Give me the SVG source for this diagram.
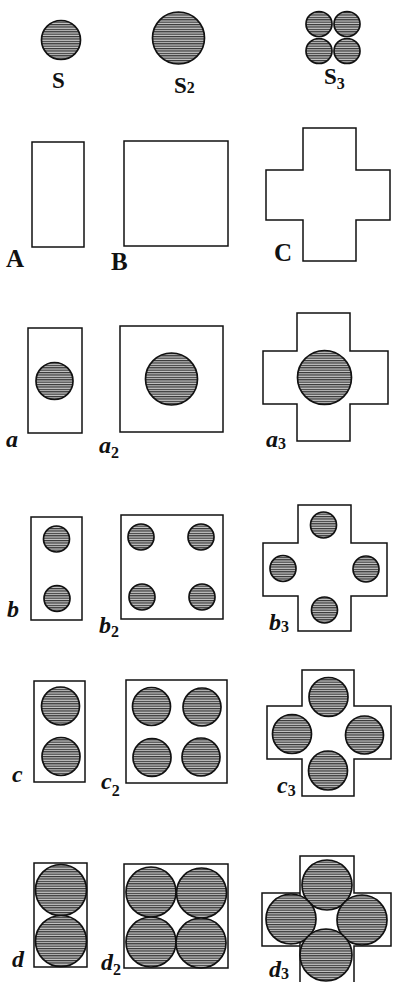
<svg xmlns="http://www.w3.org/2000/svg" width="393" height="982" viewBox="0 0 393 982">
<defs>
<pattern id="h" patternUnits="userSpaceOnUse" width="8" height="2.4">
<rect width="8" height="2.4" fill="#cacaca"/>
<rect width="8" height="1.2" fill="#333"/>
</pattern>
</defs>
<style>
.o{fill:none;stroke:#111;stroke-width:1.5}
.c{fill:url(#h);stroke:#111;stroke-width:1.7}
.L{font-family:"Liberation Serif",serif;font-weight:bold;fill:#111}
.cap{font-size:25px}
.lc{font-size:24px;font-style:italic}
.sb{font-size:16px}
</style>
<rect width="393" height="982" fill="#fff"/>

<g id="S">
<circle class="c" cx="61" cy="40" r="19.5"/>
<text class="L" x="52" y="88" font-size="23">S</text>
</g>
<g id="S2">
<circle class="c" cx="178.5" cy="38" r="26"/>
<text class="L" x="174" y="93" font-size="23">S<tspan font-size="16">2</tspan></text>
</g>
<g id="S3">
<ellipse class="c" cx="319" cy="24" rx="13" ry="12.5"/>
<ellipse class="c" cx="347" cy="24" rx="13" ry="12.5"/>
<ellipse class="c" cx="319" cy="51" rx="13" ry="12.5"/>
<ellipse class="c" cx="347" cy="51" rx="13" ry="12.5"/>
<text class="L" x="324" y="84" font-size="23">S<tspan font-size="16" dy="5">3</tspan></text>
</g>

<g id="A">
<rect class="o" x="32" y="142" width="52" height="105"/>
<text class="L cap" x="6" y="267">A</text>
</g>
<g id="B">
<rect class="o" x="124" y="141" width="104" height="105"/>
<text class="L cap" x="111" y="270">B</text>
</g>
<g id="C">
<path class="o" d="M303,128 H356 V170 H390 V220 H356 V261 H303 V220 H266 V170 H303 Z"/>
<text class="L cap" x="274" y="261">C</text>
</g>

<g id="a">
<rect class="o" x="28" y="328" width="54" height="105"/>
<circle class="c" cx="54.5" cy="381" r="18.5"/>
<text class="L lc" x="6" y="447">a</text>
</g>
<g id="a2">
<rect class="o" x="120" y="326" width="103" height="106"/>
<circle class="c" cx="171.5" cy="379" r="26"/>
<text class="L lc" x="99" y="453">a<tspan class="sb" font-style="normal" dy="5">2</tspan></text>
</g>
<g id="a3">
<path class="o" d="M297,313 H350 V351 H388 V404 H350 V441 H297 V404 H263 V351 H297 Z"/>
<circle class="c" cx="324.5" cy="377.5" r="27"/>
<text class="L lc" x="266" y="447">a<tspan class="sb" font-style="normal" dy="2">3</tspan></text>
</g>

<g id="b">
<rect class="o" x="31" y="517" width="51" height="103"/>
<circle class="c" cx="56.5" cy="539" r="13"/>
<circle class="c" cx="57" cy="598.5" r="13"/>
<text class="L lc" x="7" y="617">b</text>
</g>
<g id="b2">
<rect class="o" x="121" y="515" width="102" height="104"/>
<circle class="c" cx="141" cy="537" r="13"/>
<circle class="c" cx="201" cy="537" r="13"/>
<circle class="c" cx="142" cy="597" r="13"/>
<circle class="c" cx="202" cy="597" r="13"/>
<text class="L lc" x="99" y="633">b<tspan class="sb" font-style="normal" dy="4">2</tspan></text>
</g>
<g id="b3">
<path class="o" d="M298,505 H351 V543 H387 V596 H351 V631 H298 V596 H263 V543 H298 Z"/>
<circle class="c" cx="323.5" cy="525" r="13"/>
<circle class="c" cx="283" cy="568.5" r="13"/>
<circle class="c" cx="366" cy="569" r="13"/>
<circle class="c" cx="324.5" cy="610" r="13"/>
<text class="L lc" x="269" y="630">b<tspan class="sb" font-style="normal" dy="2">3</tspan></text>
</g>

<g id="c">
<rect class="o" x="34" y="681" width="51" height="101"/>
<circle class="c" cx="60.5" cy="706" r="19"/>
<circle class="c" cx="61" cy="756.5" r="19"/>
<text class="L lc" x="12" y="782">c</text>
</g>
<g id="c2">
<rect class="o" x="126" y="680" width="101" height="103"/>
<circle class="c" cx="151.5" cy="706.5" r="19"/>
<circle class="c" cx="202" cy="707" r="19"/>
<circle class="c" cx="152" cy="757.5" r="19"/>
<circle class="c" cx="201" cy="757" r="19"/>
<text class="L lc" x="101" y="789">c<tspan class="sb" font-style="normal" dy="7">2</tspan></text>
</g>
<g id="c3">
<path class="o" d="M302,670 H354 V706 H391 V759 H354 V796 H302 V759 H267 V706 H302 Z"/>
<circle class="c" cx="328.5" cy="697" r="19.5"/>
<circle class="c" cx="292" cy="734" r="19.5"/>
<circle class="c" cx="364.5" cy="735" r="19"/>
<circle class="c" cx="328" cy="770.5" r="19.5"/>
<text class="L lc" x="277" y="793">c<tspan class="sb" font-style="normal" dy="3">3</tspan></text>
</g>

<g id="d">
<rect class="o" x="34" y="863" width="53" height="104"/>
<circle class="c" cx="61" cy="890" r="25.5"/>
<circle class="c" cx="61" cy="941" r="25.5"/>
<text class="L lc" x="12" y="967">d</text>
</g>
<g id="d2">
<rect class="o" x="124" y="864" width="104" height="104"/>
<circle class="c" cx="151" cy="892" r="25"/>
<circle class="c" cx="201.5" cy="893" r="25"/>
<circle class="c" cx="151" cy="942" r="25"/>
<circle class="c" cx="201" cy="943" r="25"/>
<text class="L lc" x="101" y="970">d<tspan class="sb" font-style="normal" dy="5">2</tspan></text>
</g>
<g id="d3">
<path class="o" d="M300,990 V856 H354 V893 H391 V946 H354 V990 M300,893 H262 V946 H300"/>
<circle class="c" cx="327" cy="885" r="25"/>
<circle class="c" cx="291" cy="919" r="25"/>
<circle class="c" cx="362" cy="920" r="25"/>
<circle class="c" cx="326" cy="955" r="26"/>
<text class="L lc" x="269" y="977">d<tspan class="sb" font-style="normal" dy="2">3</tspan></text>
</g>
</svg>
